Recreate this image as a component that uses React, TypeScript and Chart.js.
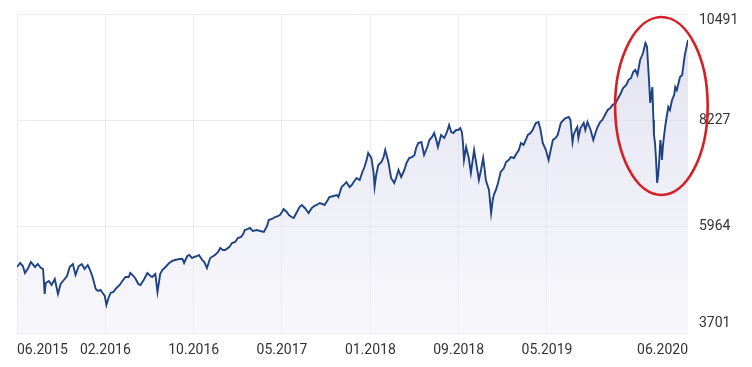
import React, { useEffect, useRef } from "react";
import { Chart, registerables } from "chart.js";

Chart.register(...registerables);

// trading-day index since 06.2015
const tradingDays = [
  0, 6, 11, 15, 21, 26, 34, 39, 45, 49,
  52, 54, 60, 65, 71, 77, 82, 88, 94, 99,
  105, 110, 116, 122, 127, 133, 138, 142, 148, 152,
  157, 161, 165, 168, 172, 176, 181, 187, 193, 198,
  204, 210, 213, 219, 223, 228, 232, 238, 245, 251,
  254, 260, 264, 269, 273, 279, 286, 292, 297, 305,
  311, 314, 320, 324, 329, 333, 339, 342, 348, 352,
  357, 363, 369, 372, 378, 382, 387, 391, 399, 404,
  410, 415, 421, 425, 428, 434, 438, 443, 451, 457,
  464, 470, 473, 479, 485, 490, 494, 498, 501, 507,
  511, 516, 520, 526, 531, 535, 541, 548, 554, 559,
  563, 569, 574, 578, 584, 587, 595, 601, 604, 610,
  616, 619, 625, 629, 634, 638, 644, 649, 653, 657,
  660, 666, 670, 672, 675, 679, 685, 689, 692, 698,
  703, 709, 713, 717, 722, 728, 732, 737, 743, 747,
  750, 754, 760, 765, 771, 775, 780, 784, 788, 791,
  797, 803, 808, 812, 816, 820, 825, 829, 833, 836,
  838, 840, 844, 849, 853, 859, 863, 868, 872, 876,
  879, 881, 887, 891, 894, 896, 900, 904, 909, 915,
  919, 924, 928, 934, 937, 943, 947, 952, 956, 960,
  965, 969, 975, 980, 984, 988, 994, 999, 1003, 1007,
  1012, 1016, 1022, 1027, 1031, 1037, 1040, 1044, 1046, 1050,
  1053, 1055, 1059, 1065, 1068, 1072, 1078, 1083, 1087, 1091,
  1096, 1100, 1106, 1110, 1115, 1119, 1125, 1128, 1134, 1139,
  1145, 1149, 1154, 1158, 1162, 1166, 1171, 1175, 1177, 1181,
  1182, 1184, 1186, 1188, 1190, 1192, 1194, 1196, 1197, 1199,
  1201, 1203, 1205, 1207, 1209, 1211, 1212, 1214, 1218, 1220,
  1224, 1227, 1231, 1235, 1237, 1240, 1246, 1250, 1252, 1255,
  1259, 1261,
];

const closes = [
  5106, 5191, 5127, 4978, 5085, 5212, 5106, 5170, 5085, 5063,
  4531, 4765, 4808, 4723, 4851, 4531, 4744, 4829, 4914, 5106,
  5170, 4936, 5127, 5170, 5063, 5148, 5021, 4893, 4638, 4595,
  4616, 4553, 4489, 4297, 4446, 4553, 4574, 4659, 4723, 4808,
  4893, 4893, 4978, 4914, 4851, 4744, 4723, 4829, 4978, 4914,
  4893, 4957, 4574, 4957, 5042, 5106, 5191, 5234, 5255, 5276,
  5276, 5191, 5340, 5361, 5297, 5319, 5340, 5361, 5255, 5212,
  5085, 5297, 5340, 5361, 5425, 5510, 5468, 5468, 5532, 5617,
  5638, 5723, 5744, 5808, 5893, 5915, 5936, 5872, 5893, 5872,
  5851, 5979, 6106, 6128, 6170, 6191, 6213, 6277, 6340, 6277,
  6213, 6170, 6149, 6277, 6383, 6426, 6362, 6255, 6362, 6404,
  6426, 6468, 6447, 6426, 6532, 6596, 6617, 6638, 6596, 6809,
  6873, 6915, 6809, 6851, 6936, 7000, 6958, 7128, 7234, 7383,
  7532, 7426, 7128, 6809, 7064, 7277, 7341, 7447, 7596, 7341,
  7000, 6894, 7022, 7171, 7022, 7171, 7320, 7426, 7447, 7490,
  7639, 7745, 7767, 7490, 7660, 7809, 7873, 7958, 7809, 7660,
  7916, 7852, 7979, 8128, 7979, 7958, 8022, 8022, 8064, 7979,
  7767, 7383, 7660, 7426, 7107, 7596, 7320, 6958, 7171, 7426,
  7171, 6958, 6745, 6255, 6532, 6638, 6745, 6894, 7128, 7213,
  7341, 7383, 7447, 7426, 7490, 7596, 7745, 7703, 7809, 7916,
  7958, 8022, 8171, 8192, 8022, 7745, 7596, 7383, 7596, 7809,
  7852, 7916, 8171, 8235, 8277, 8299, 8235, 7767, 7916, 8022,
  8086, 7852, 8064, 8171, 8022, 8192, 8022, 7809, 7958, 8086,
  8192, 8235, 8362, 8448, 8490, 8554, 8597, 8660, 8788, 8916,
  8980, 9086, 9129, 9256, 9299, 9193, 9512, 9618, 9682, 9874,
  9852, 9789, 9405, 9022, 8597, 8767, 8937, 8235, 7916, 7745,
  7383, 6894, 7064, 7383, 7809, 7596, 7383, 7703, 8086, 8235,
  8511, 8448, 8660, 8767, 8937, 8873, 9150, 9193, 9363, 9618,
  9831, 9938,
];

const xTickDays = [0, 166, 332, 498, 664, 830, 996, 1261];
const xTickLabels = ["06.2015", "02.2016", "10.2016", "05.2017", "01.2018", "09.2018", "05.2019", "06.2020"];
const yTickValues = [3701, 5964, 8227, 10491];

// highlighted region (red ellipse) in data units
const highlightDay = 1211;
const highlightValue = 8533;
const highlightHalfDays = 87;
const highlightHalfValue = 1894;

const GRID = "#ebebf1";
const TEXT = "#333333";
const FONT = "Roboto, 'Noto Sans', sans-serif";

const yLabelPlugin = {
  id: "yLabels",
  afterDraw(chart: any) {
    const { ctx, chartArea } = chart;
    const y = chart.scales.y;
    ctx.save();
    ctx.font = `14px ${FONT}`;
    ctx.fillStyle = TEXT;
    ctx.textAlign = "left";
    ctx.textBaseline = "middle";
    y.ticks.forEach((t: any) => {
      let py = y.getPixelForValue(t.value);
      py = Math.min(Math.max(py, chartArea.top + 6), chartArea.bottom - 10);
      ctx.fillText(String(t.value), chartArea.right + 11, py);
    });
    ctx.restore();
  },
};

const ellipsePlugin = {
  id: "highlightEllipse",
  afterDraw(chart: any) {
    const { ctx } = chart;
    const x = chart.scales.x;
    const y = chart.scales.y;
    const cx = x.getPixelForValue(highlightDay);
    const cy = y.getPixelForValue(highlightValue);
    const rx = x.getPixelForValue(highlightDay + highlightHalfDays) - cx;
    const ry = cy - y.getPixelForValue(highlightValue + highlightHalfValue);
    ctx.save();
    ctx.beginPath();
    ctx.ellipse(cx, cy, rx, ry, 0, 0, Math.PI * 2);
    ctx.strokeStyle = "#d61f25";
    ctx.lineWidth = 2.6;
    ctx.stroke();
    ctx.restore();
  },
};

export default function App() {
  const ref = useRef<HTMLCanvasElement>(null);

  useEffect(() => {
    if (!ref.current) return;
    const points = tradingDays.map((d, i) => ({ x: d, y: closes[i] }));
    const chart = new Chart(ref.current, {
      type: "line",
      data: {
        datasets: [
          {
            data: points,
            borderColor: "#1e4283",
            borderWidth: 1.9,
            pointRadius: 0,
            tension: 0,
            fill: "start",
            backgroundColor: (c: any) => {
              const area = c.chart.chartArea;
              if (!area) return "rgba(225,225,240,0.5)";
              const g = c.chart.ctx.createLinearGradient(0, area.top, 0, area.bottom);
              g.addColorStop(0, "rgba(205,205,230,0.6)");
              g.addColorStop(1, "rgba(238,238,247,0.45)");
              return g;
            },
          },
        ],
      },
      options: {
        animation: false,
        responsive: true,
        maintainAspectRatio: false,
        layout: { padding: { left: 6, top: 6, right: 56, bottom: 0 } },
        plugins: { legend: { display: false }, tooltip: { enabled: false } },
        scales: {
          x: {
            type: "linear",
            min: 0,
            max: 1261,
            afterBuildTicks: (s: any) => {
              s.ticks = xTickDays.map((v) => ({ value: v }));
            },
            afterFit: (s: any) => {
              s.height = 26;
            },
            ticks: {
              callback: (_v: any, i: number) => xTickLabels[i],
              align: "inner",
              autoSkip: false,
              maxRotation: 0,
              padding: 9,
              color: TEXT,
              font: { family: FONT, size: 14 },
            },
            grid: {
              color: (c: any) => (c.index === xTickDays.length - 1 ? "rgba(0,0,0,0)" : GRID),
              drawTicks: false,
            },
            border: { display: false },
          },
          y: {
            position: "right",
            min: 3701,
            max: 10491,
            afterBuildTicks: (s: any) => {
              s.ticks = yTickValues.map((v) => ({ value: v }));
            },
            ticks: { display: false },
            grid: { color: GRID, drawTicks: false },
            border: { display: false },
          },
        },
      } as any,
      plugins: [yLabelPlugin, ellipsePlugin],
    });
    return () => chart.destroy();
  }, []);

  return (
    <div style={{ position: "relative", height: 351 }}>
      <canvas ref={ref} />
    </div>
  );
}
